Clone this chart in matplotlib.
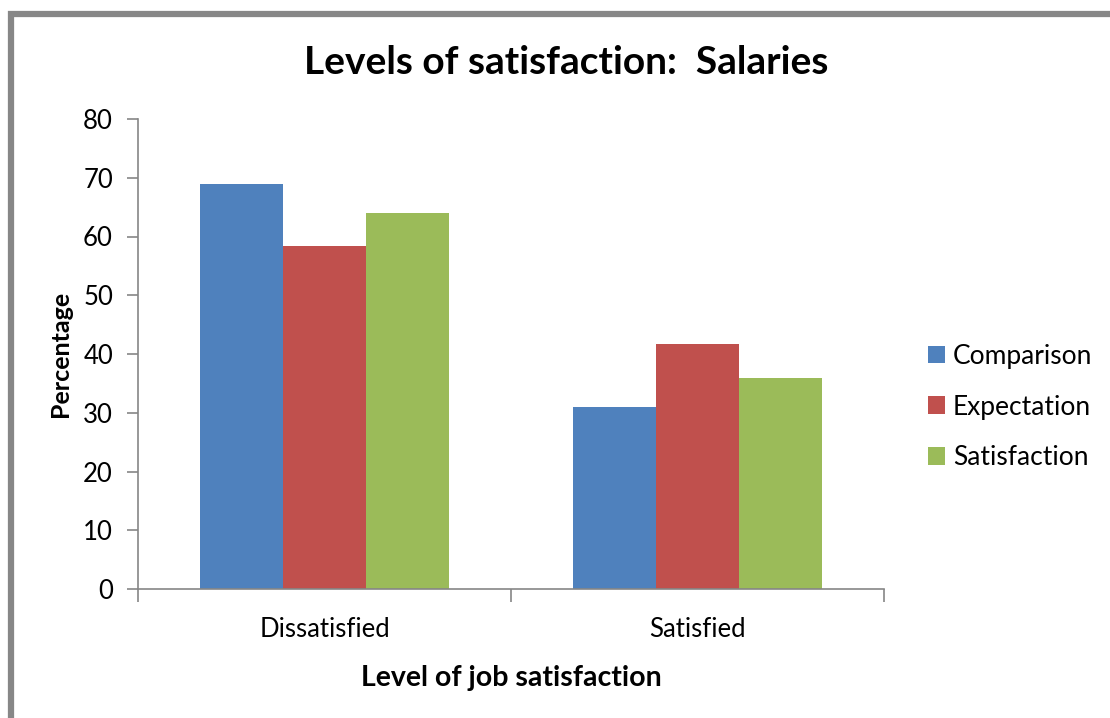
import matplotlib
matplotlib.use("Agg")
import matplotlib.pyplot as plt
import numpy as np
from matplotlib.patches import Rectangle

categories = ["Dissatisfied", "Satisfied"]
series_names = ["Comparison", "Expectation", "Satisfaction"]
comparison = [69, 31]
expectation = [58.3, 41.7]
satisfaction = [64, 36]
y_ticks = [0, 10, 20, 30, 40, 50, 60, 70, 80]

colors = ["#4F81BD", "#C0504D", "#9BBB59"]

plt.rcParams['font.family'] = ['Lato', 'DejaVu Sans']

fig = plt.figure(figsize=(11.10, 7.18), dpi=100)
ax = fig.add_axes([138/1110, 1-589/718, (884-138)/1110, (589-119)/718])

x = np.arange(len(categories))
w = 0.2225
for i, (vals, name) in enumerate(zip([comparison, expectation, satisfaction], series_names)):
    ax.bar(x + (i-1)*w, vals, width=w, color=colors[i], label=name, edgecolor='none')

ax.set_xlim(-0.5, 1.5)
ax.set_ylim(0, 80)
ax.set_yticks(y_ticks)
ax.set_xticks([-0.5, 0.5, 1.5], minor=False)
ax.set_xticklabels([])
ax.set_xticks(x, minor=True)
ax.set_xticklabels(categories, minor=True)
ax.tick_params(axis='x', which='minor', length=0, pad=20, labelsize=18.5)
ax.tick_params(axis='x', which='major', length=9, color='#868686', width=1.2)
ax.tick_params(axis='y', length=8, color='#868686', width=1.2, labelsize=18.5, pad=10)
for s in ['top', 'right']:
    ax.spines[s].set_visible(False)
for s in ['left', 'bottom']:
    ax.spines[s].set_color('#868686')
    ax.spines[s].set_linewidth(1.2)

ax.set_ylabel("Percentage", fontsize=18, fontweight='bold', labelpad=8)
ax.set_xlabel("Level of job satisfaction", fontsize=20.5, fontweight='bold', labelpad=17)

fig.text(566/1110, 1-62/718, "Levels of satisfaction:  Salaries", fontsize=28,
         fontweight='bold', ha='center', va='center')

leg = ax.legend(loc='center left', bbox_to_anchor=(928/1110, 1-407/718),
                bbox_transform=fig.transFigure, frameon=False, fontsize=19,
                handlelength=0.65, handleheight=0.65, handletextpad=0.3,
                labelspacing=0.98, borderpad=0, borderaxespad=0)

fig.patches.append(Rectangle((10.5/1110, -0.1), 2.0, 1-14/718+0.1,
                             transform=fig.transFigure, fill=False,
                             edgecolor='#878787', linewidth=4.5, zorder=10))

fig.savefig("out.png", dpi=100, facecolor='white')
